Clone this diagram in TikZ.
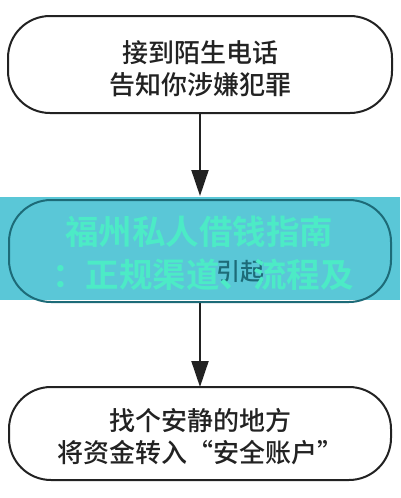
\documentclass[tikz,border=0pt]{standalone}
\usepackage{fontspec}
\newfontfamily\cjk{Noto Sans CJK SC Medium}
\newfontfamily\cjkb{Noto Sans CJK SC Bold}
\usetikzlibrary{arrows.meta}
\definecolor{linec}{HTML}{222222}
\definecolor{bannerc}{HTML}{5AC7D7}
\definecolor{darkteal}{HTML}{1D6B78}
\definecolor{wmark}{HTML}{4CEBC6}
\tikzset{
  flowbox/.style={draw=linec, line width=2pt, rounded corners=42pt},
  boxtext/.style={text=linec, font=\cjk\fontsize{26}{32}\selectfont, align=center, inner sep=0pt},
  wmtext/.style={text=wmark, font=\cjkb\fontsize{33.5}{40}\selectfont, inner sep=0pt},
  flowarrow/.style={draw=linec, line width=2pt, -{Triangle[length=26pt,width=17pt]}}
}
\begin{document}
\begin{tikzpicture}[x=1pt,y=-1pt]
\useasboundingbox (0,0) rectangle (400,498);
\fill[white] (0,0) rectangle (400,498);
% boxes
\draw[flowbox] (8,16) rectangle (392,113);
\node[boxtext] (t1) at (200,68.5) {接到陌生电话\\告知你涉嫌犯罪};
\draw[flowbox] (9,387) rectangle (391,480);
\node[boxtext] (t3) at (200,437) {找个安静的地方\\将资金转入“安全账户”};
% anchors
\coordinate (b1) at (200,113);
\coordinate (m1) at (200,196);
\coordinate (m2) at (200,302);
\coordinate (b3) at (200,387);
\draw[flowarrow] (b1) -- (m1);
\draw[flowarrow] (m2) -- (b3);
% banner
\fill[bannerc] (0,197) rectangle (400,300);
\draw[draw=darkteal, line width=2pt, rounded corners=42pt] (9,200) rectangle (391,302);
\node[text=darkteal, font=\cjk\fontsize{24}{30}\selectfont, inner sep=0pt, anchor=west] (u2) at (216,272) {引起};
\node[wmtext] (w1) at (199,232) {福州私人借钱指南};
\node[wmtext] (w2) at (203,275) {：正规渠道、流程及};
\end{tikzpicture}
\end{document}
